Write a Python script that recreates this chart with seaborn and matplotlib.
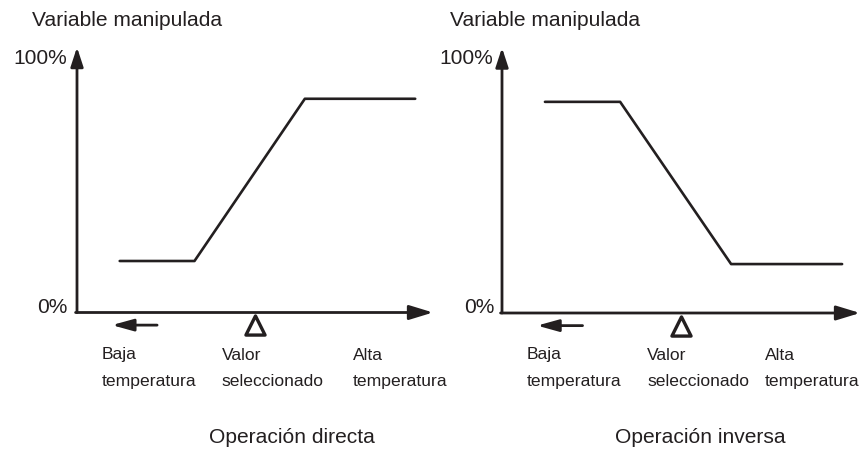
import matplotlib
matplotlib.use("Agg")
import matplotlib.pyplot as plt
import seaborn as sns
import pandas as pd

# ---------------- data ----------------
temperature = [12, 33, 64, 95]            # position along temperature axis (0..100)
direct_output = [20, 20, 83, 83]          # % manipulated variable, direct action
inverse_output = [82, 82, 19, 19]         # % manipulated variable, inverse action
setpoint = 50                             # "Valor seleccionado" position
y_label = "Variable manipulada"
y_ticks = ["0%", "100%"]
x_labels = [("Baja", "temperatura"), ("Valor", "seleccionado"), ("Alta", "temperatura")]
panel_titles = ["Operación directa", "Operación inversa"]

# ---------------- style ----------------
sns.set_theme(style="white")
plt.rcParams["font.family"] = ["Liberation Sans", "DejaVu Sans"]
INK = "#231f20"
W, H = 867, 450
BIG = 15.1     # pt
SMALL = 12.6   # pt

fig = plt.figure(figsize=(W / 100, H / 100), dpi=100)
fig.patch.set_facecolor("white")


def fx(px):
    return px / W


def fy(py):
    return 1 - py / H


# panel layout in pixels: origin x, origin y, axis length x, axis length y (100%)
panels = [
    dict(ox=77, oy=312.5, lx=356, ly=257.5, out=direct_output, title=panel_titles[0],
         ylab_x=32, tick_r=67, lab_x=[102, 222, 353], title_x=209),
    dict(ox=502, oy=313, lx=358, ly=257.5, out=inverse_output, title=panel_titles[1],
         ylab_x=450, tick_r=493, lab_x=[527, 647, 765], title_x=615),
]

for p in panels:
    ax = fig.add_axes([fx(p["ox"]), 1 - p["oy"] / H, p["lx"] / W, p["ly"] / H])
    ax.axis("off")

    df = pd.DataFrame({"temp": temperature, "out": p["out"]})
    sns.lineplot(data=df, x="temp", y="out", ax=ax, color=INK, linewidth=1.9,
                 sort=False, estimator=None, legend=False)

    # axes with arrow heads
    ax.annotate("", xy=(100, 0), xytext=(-0.4, 0), annotation_clip=False,
                arrowprops=dict(arrowstyle="-|>,head_length=0.72,head_width=0.22",
                                mutation_scale=20, lw=2.0, color=INK,
                                shrinkA=0, shrinkB=0))
    ax.annotate("", xy=(0, 103), xytext=(0, 0), annotation_clip=False,
                arrowprops=dict(arrowstyle="-|>,head_length=0.58,head_width=0.19",
                                mutation_scale=20, lw=2.0, color=INK,
                                shrinkA=0, shrinkB=0))

    # "lower temperature" arrow
    ax.annotate("", xy=(9.8, -4.9), xytext=(22.5, -4.9), annotation_clip=False,
                arrowprops=dict(arrowstyle="-|>,head_length=0.65,head_width=0.18",
                                mutation_scale=20, lw=2.0, color=INK,
                                shrinkA=0, shrinkB=0))

    # setpoint triangle
    sns.scatterplot(x=[setpoint], y=[-4.9], ax=ax, marker="^", s=190,
                    facecolor="white", edgecolor=INK, linewidth=2.4,
                    clip_on=False, zorder=5, legend=False)

    ax.set_xlim(0, 100)
    ax.set_ylim(0, 100)
    ax.set_xlabel("")
    ax.set_ylabel("")

    # texts
    fig.text(fx(p["ylab_x"]), fy(26.5), y_label, fontsize=BIG, color=INK,
             ha="left", va="baseline")
    fig.text(fx(p["tick_r"]), fy(64), y_ticks[1], fontsize=BIG, color=INK,
             ha="right", va="baseline")
    fig.text(fx(p["tick_r"] + 1), fy(313), y_ticks[0], fontsize=BIG, color=INK,
             ha="right", va="baseline")
    for lx, (l1, l2) in zip(p["lab_x"], x_labels):
        fig.text(fx(lx), fy(359.5), l1, fontsize=SMALL, color=INK, ha="left", va="baseline")
        fig.text(fx(lx), fy(386), l2, fontsize=SMALL, color=INK, ha="left", va="baseline")
    fig.text(fx(p["title_x"]), fy(443), p["title"], fontsize=BIG, color=INK,
             ha="left", va="baseline")

fig.savefig("out.png", dpi=100, facecolor="white")
